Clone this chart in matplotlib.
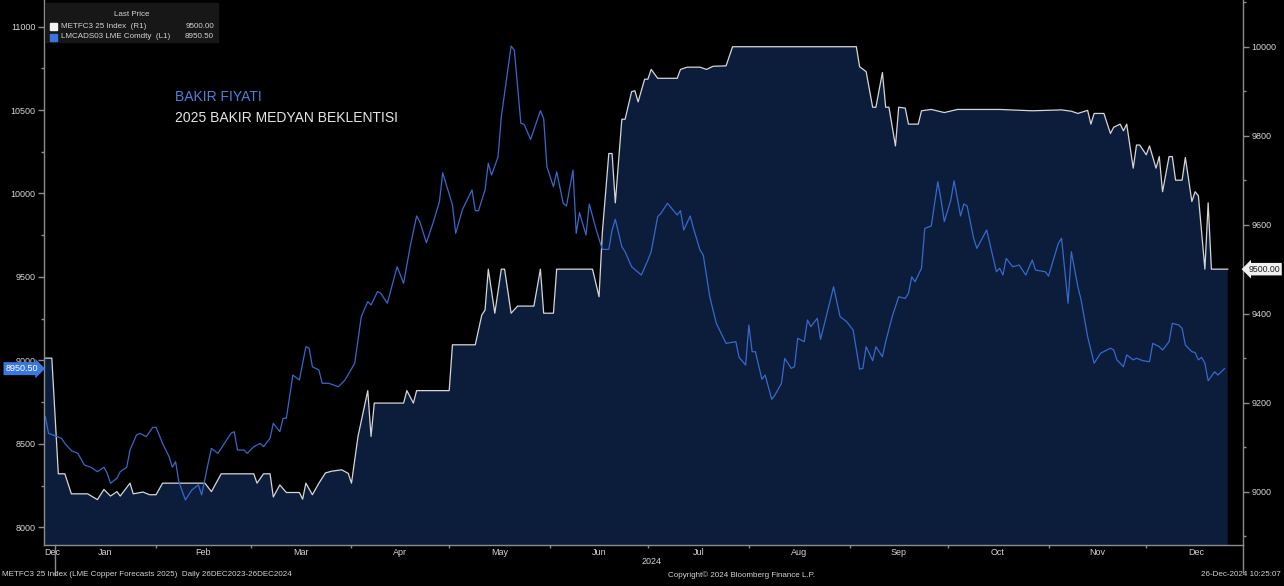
"""
Copper price vs. 2025 median forecast, Bloomberg-style dark chart.
Left scale: LME 3M copper (LMCADS03). Right scale: METFC3 25 Index.
"""

import matplotlib
matplotlib.use("Agg")
import matplotlib.pyplot as plt
import matplotlib.transforms as mtransforms
from matplotlib.patches import Rectangle
from matplotlib.ticker import MultipleLocator
import pandas as pd

plt.rcParams["font.family"] = ["Liberation Sans", "DejaVu Sans"]

# x values are days counted from 1 Jan 2024 (negative = late Dec 2023)
FORECAST_DAYS = [
    -5, -1, 1, 3, 5, 10, 13, 15, 17, 19, 20, 23, 24, 27, 29, 31, 33, 46, 48, 51,
    61, 62, 64, 66, 67, 69, 71, 75, 76, 77, 79, 81, 83, 85, 88, 90, 91, 93, 96, 97,
    98, 107, 108, 110, 111, 121, 122, 129, 131, 132, 133, 135, 137, 138, 140, 142, 147, 149, 150, 153,
    154, 165, 167, 168, 170, 171, 172, 174, 175, 177, 178, 179, 181, 182, 183, 185, 191, 192, 194, 198,
    200, 202, 206, 208, 246, 247, 249, 251, 252, 254, 255, 256, 258, 259, 261, 262, 265, 266, 269, 273,
    277, 290, 300, 309, 312, 314, 317, 318, 319, 322, 324, 325, 327, 328, 329, 331, 332, 333, 335, 336,
    338, 339, 340, 342, 343, 344, 346, 347, 349, 350, 351, 353, 354, 355, 360,
]
FORECAST_VALUES = [
    9300, 9300, 9040, 9040, 8995, 8995, 8982, 9005, 8990, 9000, 8990, 9019, 8995, 8999, 8993, 8993, 9019, 9019, 9000, 9040,
    9040, 9019, 9040, 9040, 8988, 9015, 8998, 8998, 8983, 9019, 8993, 9019, 9042, 9046, 9049, 9041, 9019, 9124, 9227, 9124,
    9199, 9199, 9227, 9199, 9227, 9227, 9330, 9330, 9397, 9408, 9500, 9401, 9500, 9500, 9401, 9417, 9417, 9500, 9401, 9401,
    9500, 9500, 9438, 9581, 9760, 9760, 9649, 9837, 9837, 9899, 9901, 9876, 9927, 9927, 9949, 9929, 9929, 9949, 9954, 9954,
    9949, 9956, 9957, 10000, 10000, 9955, 9944, 9864, 9864, 9942, 9864, 9864, 9777, 9864, 9862, 9826, 9826, 9856, 9859, 9852,
    9859, 9859, 9856, 9858, 9855, 9850, 9857, 9826, 9850, 9850, 9805, 9819, 9826, 9811, 9826, 9727, 9779, 9779, 9757, 9777,
    9727, 9753, 9674, 9753, 9753, 9700, 9700, 9751, 9652, 9674, 9665, 9500, 9649, 9500, 9500,
]

LME_DAYS = [
    -5, -3, -2, 2, 3, 5, 7, 9, 11, 13, 15, 16, 17, 19, 20, 22, 23, 25, 26, 28,
    30, 31, 33, 35, 36, 37, 38, 40, 42, 44, 45, 47, 48, 50, 52, 54, 55, 56, 58, 59,
    61, 63, 64, 66, 67, 69, 70, 71, 73, 75, 77, 78, 79, 81, 82, 84, 87, 89, 92, 94,
    96, 97, 99, 100, 102, 105, 107, 109, 111, 112, 114, 116, 118, 119, 122, 123, 125, 128, 129, 130,
    132, 133, 134, 136, 137, 140, 141, 143, 144, 146, 149, 150, 151, 153, 154, 156, 157, 159, 160, 161,
    163, 164, 166, 168, 170, 171, 172, 174, 175, 177, 180, 182, 183, 185, 186, 188, 191, 192, 193, 195,
    196, 198, 199, 201, 203, 206, 209, 210, 212, 213, 214, 215, 217, 218, 220, 221, 223, 224, 226, 227,
    228, 230, 231, 232, 234, 235, 237, 239, 241, 243, 245, 247, 248, 249, 251, 252, 254, 255, 257, 259,
    261, 262, 263, 264, 266, 267, 269, 271, 272, 273, 275, 276, 278, 279, 280, 282, 283, 286, 289, 290,
    291, 292, 294, 296, 298, 300, 301, 304, 305, 308, 309, 311, 312, 314, 315, 317, 319, 321, 324, 325,
    326, 328, 329, 331, 332, 334, 336, 337, 339, 340, 342, 343, 345, 346, 347, 349, 350, 351, 352, 353,
    354, 356, 357, 359,
]
LME_VALUES = [
    8680, 8663, 8563, 8533, 8503, 8459, 8443, 8373, 8360, 8333, 8360, 8324, 8264, 8294, 8333, 8360, 8463, 8553, 8563, 8543,
    8599, 8599, 8503, 8423, 8360, 8393, 8273, 8164, 8224, 8254, 8194, 8384, 8473, 8443, 8503, 8563, 8573, 8463, 8463, 8443,
    8483, 8503, 8483, 8533, 8623, 8573, 8653, 8653, 8912, 8882, 9082, 9073, 8962, 8942, 8863, 8863, 8842, 8882, 8983, 9262,
    9352, 9332, 9412, 9402, 9342, 9561, 9462, 9681, 9865, 9830, 9705, 9821, 9951, 10124, 9931, 9761, 9901, 10021, 9897, 9897,
    10021, 10181, 10110, 10220, 10460, 10883, 10859, 10420, 10414, 10324, 10496, 10450, 10160, 10040, 10130, 9941, 9925, 10140, 9761, 9885,
    9751, 9937, 9791, 9665, 9665, 9781, 9845, 9681, 9651, 9561, 9511, 9601, 9651, 9861, 9881, 9941, 9871, 9897, 9781, 9865,
    9791, 9661, 9631, 9381, 9222, 9102, 9112, 9018, 8972, 9212, 9052, 9052, 8887, 8912, 8767, 8792, 8862, 9012, 8952, 8962,
    9132, 9112, 9242, 9202, 9252, 9126, 9282, 9441, 9262, 9232, 9182, 8947, 8952, 9082, 8998, 9082, 9022, 9112, 9262, 9381,
    9371, 9402, 9501, 9471, 9552, 9791, 9805, 10070, 9961, 9831, 9961, 10076, 9865, 9937, 9925, 9731, 9671, 9781, 9531, 9552,
    9511, 9611, 9561, 9571, 9511, 9601, 9541, 9531, 9505, 9701, 9731, 9342, 9651, 9441, 9362, 9142, 8983, 9043, 9073, 9063,
    9003, 8962, 9033, 9003, 9013, 8998, 8992, 9102, 9082, 9062, 9112, 9222, 9212, 9192, 9092, 9052, 9047, 9003, 9018, 8983,
    8878, 8932, 8912, 8950.5,
]

MONTH_LABELS = ["Dec", "Jan", "Feb", "Mar", "Apr", "May", "Jun",
                "Jul", "Aug", "Sep", "Oct", "Nov", "Dec"]

LEGEND_ROWS = [
    ("METFC3 25 Index  (R1)", "9500.00", "#f2f2f2"),
    ("LMCADS03 LME Comdty  (L1)", "8950.50", "#3a74e0"),
]

TITLE_PRICE = "BAKIR FIYATI"
TITLE_FORECAST = "2025 BAKIR MEDYAN BEKLENTISI"
FOOTER_LEFT = "METFC3 25 Index (LME Copper Forecasts 2025)  Daily 26DEC2023-26DEC2024"
FOOTER_MID = "Copyright\u00a9 2024 Bloomberg Finance L.P."
FOOTER_RIGHT = "26-Dec-2024 10:25:07"

assert len(FORECAST_DAYS) == len(FORECAST_VALUES)
assert len(LME_DAYS) == len(LME_VALUES)

W, H = 1284, 586
BG = "black"
FILL = "#0b1d3a"
WHITE_LINE = "#d6d6d6"
BLUE_LINE = "#3768cc"
AXIS = "#8c8c8c"
TEXT = "#d4d4d4"


def fx(px):
    return px / W


def fy(py):
    return 1 - py / H


fig = plt.figure(figsize=(W / 100, H / 100), dpi=100, facecolor=BG)
ax = fig.add_axes([fx(44), fy(545), fx(1243) - fx(44), fy(0) - fy(545)])
ax2 = ax.twinx()

# blue price line sits on top of the forecast fill
ax.set_zorder(ax2.get_zorder() + 1)
ax.patch.set_visible(False)
ax2.patch.set_visible(False)

# forecast (right scale)
ax2.fill_between(FORECAST_DAYS, FORECAST_VALUES, 0, color=FILL, lw=0)
ax2.plot(FORECAST_DAYS, FORECAST_VALUES, color=WHITE_LINE, lw=0.9)

# LME copper (left scale)
ax.plot(LME_DAYS, LME_VALUES, color=BLUE_LINE, lw=0.9)

ax.set_xlim(-3.4, 364.7)
ax.set_ylim(7894, 11159)
ax2.set_ylim(8880, 10105)

for a in (ax, ax2):
    for s in a.spines.values():
        s.set_color(AXIS)
        s.set_linewidth(1)
ax.spines["top"].set_visible(False)
ax.spines["right"].set_visible(False)
ax2.spines["top"].set_visible(False)
ax2.spines["left"].set_visible(False)
ax2.spines["bottom"].set_visible(False)

ax.yaxis.set_major_locator(MultipleLocator(500))
ax.yaxis.set_minor_locator(MultipleLocator(250))
ax2.yaxis.set_major_locator(MultipleLocator(200))
ax2.yaxis.set_minor_locator(MultipleLocator(100))
ax.tick_params(axis="y", which="major", direction="out", length=4, width=1,
               color=AXIS, labelcolor=TEXT, labelsize=6.5, pad=2)
ax.tick_params(axis="y", which="minor", direction="out", length=2, width=1, color=AXIS)
ax2.tick_params(axis="y", which="major", direction="out", length=4, width=1,
                color=AXIS, labelcolor=TEXT, labelsize=6.5, pad=2)
ax2.tick_params(axis="y", which="minor", direction="out", length=2, width=1, color=AXIS)

# month boundaries as small ticks, month names in the middle of each month
base = pd.Timestamp("2024-01-01")
starts = pd.date_range("2024-01-01", "2025-01-01", freq="MS")
start_days = [(d - base).days for d in starts]
mids = [-1] + [(a + b) / 2 for a, b in zip(start_days[:-1], start_days[1:])]
ax.set_xticks(start_days[1:-1])
ax.set_xticklabels([])
ax.tick_params(axis="x", which="major", direction="out", length=2.5, width=1, color=AXIS)
ax.set_xticks(mids, MONTH_LABELS, minor=True)
ax.tick_params(axis="x", which="minor", length=0, labelcolor=TEXT, labelsize=6.5, pad=2)

# year separators
xblend = mtransforms.blended_transform_factory(ax.transData, ax.transAxes)
ax.plot([0, 0], [0, -0.055], transform=xblend, color=AXIS, lw=1, clip_on=False)
ax.plot([1, 1], [0, -0.05], transform=ax.transAxes, color=AXIS, lw=1, clip_on=False)
ax.text((start_days[0] + start_days[-1]) / 2, -0.031, "2024", transform=xblend,
        ha="center", va="center", color=TEXT, fontsize=6.5)

# last value tags on both scales
rblend = mtransforms.blended_transform_factory(ax2.transAxes, ax2.transData)
ax2.text(1.0045, FORECAST_VALUES[-1], f"{FORECAST_VALUES[-1]:.2f}", transform=rblend,
         ha="left", va="center", fontsize=6.3, color="#202020", clip_on=False,
         bbox=dict(boxstyle="larrow,pad=0.2", fc="#f0f0f0", ec="none"))
lblend = mtransforms.blended_transform_factory(ax.transAxes, ax.transData)
ax.text(-0.005, LME_VALUES[-1], f"{LME_VALUES[-1]:.2f}", transform=lblend,
        ha="right", va="center", fontsize=6.5, color="white", clip_on=False,
        bbox=dict(boxstyle="rarrow,pad=0.22", fc="#3a78e0", ec="none"))

# legend box
fig.patches.append(Rectangle((fx(46), fy(42)), fx(218) - fx(46), fy(3) - fy(42),
                             transform=fig.transFigure, color="#171717", zorder=5))
fig.text(fx(132), fy(15), "Last Price", ha="center", va="center",
         color=TEXT, fontsize=5.8, zorder=6)
for i, (name, last, col) in enumerate(LEGEND_ROWS):
    yc = 26 + 11 * i
    fig.patches.append(Rectangle((fx(50), fy(yc + 3.5)), fx(7), 7 / H,
                                 transform=fig.transFigure, color=col, zorder=6))
    fig.text(fx(61), fy(yc), name, ha="left", va="center",
             color=TEXT, fontsize=5.8, zorder=6)
    fig.text(fx(214), fy(yc), last, ha="right", va="center",
             color=TEXT, fontsize=5.8, zorder=6)

# chart annotations
fig.text(fx(175), fy(97), TITLE_PRICE, color="#4a82dc", fontsize=10, va="center")
fig.text(fx(175), fy(118), TITLE_FORECAST, color="#e6e6e6", fontsize=10, va="center")

# footer
fig.text(fx(2), fy(575), FOOTER_LEFT, ha="left", va="center", color=TEXT, fontsize=5.8)
fig.text(fx(668), fy(575), FOOTER_MID, ha="left", va="center", color=TEXT, fontsize=5.8)
fig.text(fx(1281), fy(575), FOOTER_RIGHT, ha="right", va="center", color=TEXT, fontsize=5.8)

fig.savefig("out.png", dpi=100, facecolor=BG)
